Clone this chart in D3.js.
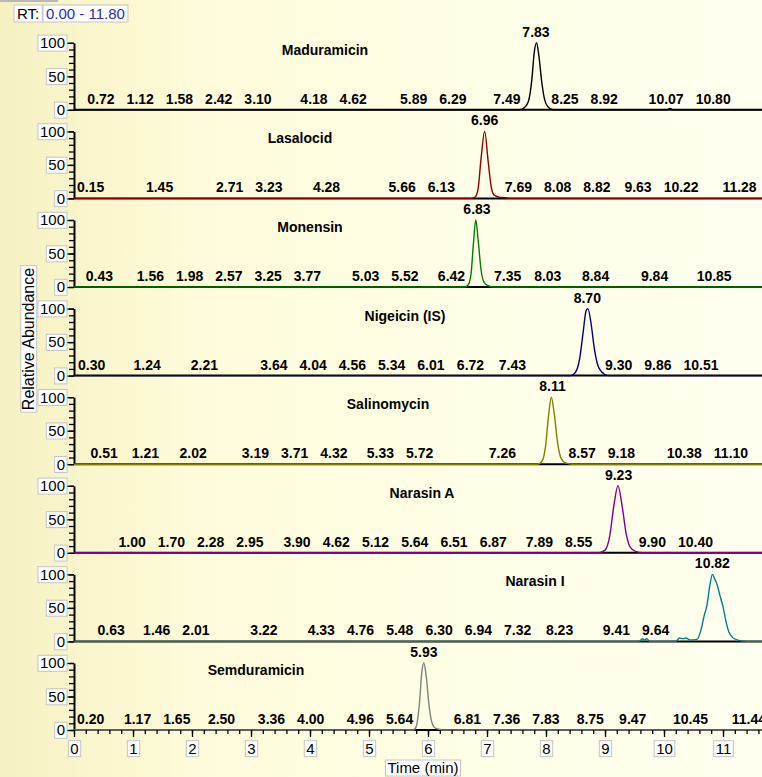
<!DOCTYPE html>
<html>
<head>
<meta charset="utf-8">
<script src="https://cdn.jsdelivr.net/npm/d3@7/dist/d3.min.js"></script>
<style>
body{margin:0;background:#fff;}
text{font-family:"Liberation Sans",Arial,sans-serif;}
</style>
</head>
<body>
<svg></svg>
<script>
// chart values
var compounds = ["Maduramicin","Lasalocid","Monensin","Nigeicin (IS)","Salinomycin","Narasin A","Narasin I","Semduramicin"];
var peakRT = ["7.83","6.96","6.83","8.70","8.11","9.23","10.82","5.93"];
var timeTicks = [0,1,2,3,4,5,6,7,8,9,10,11];
var abundanceTicks = [0,50,100];
var rtRange = [0,11.80];

// traces as [time, relative abundance]
var maduramicin = [[0,0],[7.55,0],[7.62,2],[7.7,12],[7.76,45],[7.8,85],[7.84,100],[7.88,80],[7.93,40],[7.98,14],[8.04,4],[8.12,0],[10.05,0],[10.1,2],[10.15,0],[11.8,0]];
var lasalocid = [[0,0],[6.74,0],[6.8,2],[6.85,15],[6.9,60],[6.96,100],[7.02,55],[7.07,18],[7.12,5],[7.2,2],[7.3,1],[7.38,0],[11.8,0]];
var monensin = [[0,0],[6.62,0],[6.68,3],[6.73,20],[6.77,65],[6.81,100],[6.85,70],[6.9,25],[6.95,7],[7.02,2],[7.12,0],[11.8,0]];
var nigeicin = [[0,0],[8.42,0],[8.5,5],[8.57,25],[8.63,65],[8.68,97],[8.71,100],[8.76,80],[8.82,40],[8.88,15],[8.95,5],[9.05,0],[11.8,0]];
var salinomycin = [[0,0],[7.86,0],[7.93,4],[7.99,25],[8.04,70],[8.09,100],[8.14,75],[8.2,30],[8.26,8],[8.33,2],[8.45,0],[11.8,0]];
var narasinA = [[0,0],[8.9,0],[9.0,4],[9.08,25],[9.15,70],[9.22,100],[9.29,70],[9.36,28],[9.43,8],[9.52,2],[9.63,0],[11.8,0]];
var narasinI = [[0,0],[9.58,0],[9.63,4],[9.67,2],[9.71,4],[9.76,0],[10.2,0],[10.26,5],[10.32,4],[10.37,5],[10.45,2],[10.56,3],[10.62,15],[10.68,38],[10.73,55],[10.78,85],[10.82,100],[10.86,93],[10.9,85],[10.95,68],[11.0,52],[11.05,30],[11.1,14],[11.16,6],[11.25,2],[11.4,0],[11.8,0]];
var semduramicin = [[0,0],[5.75,0],[5.8,5],[5.85,35],[5.9,90],[5.93,100],[5.97,80],[6.02,35],[6.07,10],[6.12,3],[6.2,1],[6.27,0],[11.8,0]];
var traces = [maduramicin,lasalocid,monensin,nigeicin,salinomycin,narasinA,narasinI,semduramicin];

// retention time labels along each baseline
var maduramicinRT = ["0.72","1.12","1.58","2.42","3.10","4.18","4.62","5.89","6.29","7.49","8.25","8.92","10.07","10.80"];
var lasalocidRT = ["0.15","1.45","2.71","3.23","4.28","5.66","6.13","7.69","8.08","8.82","9.63","10.22","11.28"];
var monensinRT = ["0.43","1.56","1.98","2.57","3.25","3.77","5.03","5.52","6.42","7.35","8.03","8.84","9.84","10.85"];
var nigeicinRT = ["0.30","1.24","2.21","3.64","4.04","4.56","5.34","6.01","6.72","7.43","9.30","9.86","10.51"];
var salinomycinRT = ["0.51","1.21","2.02","3.19","3.71","4.32","5.33","5.72","7.26","8.57","9.18","10.38","11.10"];
var narasinART = ["1.00","1.70","2.28","2.95","3.90","4.62","5.12","5.64","6.51","6.87","7.89","8.55","9.90","10.40"];
var narasinIRT = ["0.63","1.46","2.01","3.22","4.33","4.76","5.48","6.30","6.94","7.32","8.23","9.41","9.64"];
var semduramicinRT = ["0.20","1.17","1.65","2.50","3.36","4.00","4.96","5.64","6.81","7.36","7.83","8.75","9.47","10.45","11.44"];
var rtLabels = [maduramicinRT,lasalocidRT,monensinRT,nigeicinRT,salinomycinRT,narasinART,narasinIRT,semduramicinRT];

var drawChart = function()
{
  var screen = {width:762, height:777};
  var colors = ["#000000","#8b0000","#008000","#000080","#808000","#800080","#008080","#808080"];
  var nameX = [325,300,310,405,388,422,535,256];
  var firstBase = 109.8, step = 88.6, panelH = 67;

  var svg = d3.select('svg')
            .attr('width',screen.width)
            .attr('height',screen.height);

  var defs = svg.append('defs');
  var grad = defs.append('linearGradient').attr('id','bg')
             .attr('x1','0').attr('x2','1').attr('y1','0').attr('y2','0');
  grad.append('stop').attr('offset','0%').attr('stop-color','#f6f1c2');
  grad.append('stop').attr('offset','25%').attr('stop-color','#fdfbd9');
  grad.append('stop').attr('offset','60%').attr('stop-color','#fffee6');
  grad.append('stop').attr('offset','100%').attr('stop-color','#fffff0');
  defs.append('clipPath').attr('id','plotclip')
      .append('rect').attr('x',74).attr('y',0).attr('width',700).attr('height',screen.height);

  svg.append('rect').attr('width',screen.width).attr('height',screen.height).attr('fill','url(#bg)');
  svg.append('rect').attr('x',0).attr('y',0).attr('width',58).attr('height',2).attr('fill','#b8b8b8');

  var xScale = d3.scaleLinear()
                .domain(rtRange)
                .range([74, 74 + 11.8*59]);

  // boxed tick labels
  var boxLabels = function(g)
  {
    g.selectAll('.tick text').each(function(){
      var b = this.getBBox();
      d3.select(this.parentNode).insert('rect','text')
        .attr('x',b.x-2).attr('y',b.y+1)
        .attr('width',b.width+4).attr('height',b.height-1)
        .attr('fill','#ffffff')
        .attr('stroke','#c4c4c4')
        .attr('stroke-width',1);
    });
  };

  // y axis title (under the tick boxes)
  var title = svg.append('g').attr('transform','translate(28,339) rotate(-90)');
  var tt = title.append('text').attr('text-anchor','middle').attr('dy','0.36em')
             .attr('font-size',16).text('Relative Abundance');
  var tb = tt.node().getBBox();
  title.insert('rect','text').attr('x',tb.x-2).attr('y',tb.y+1).attr('width',tb.width+4).attr('height',tb.height-1)
       .attr('fill','#fff').attr('stroke','#c4c4c4');

  var line = d3.line().curve(d3.curveMonotoneX);

  compounds.forEach(function(name,i)
  {
    var base = firstBase + i*step;
    var yScale = d3.scaleLinear().domain([0,100]).range([base, base-panelH]);
    var panel = svg.append('g').classed('panel',true);

    // minor + major ticks
    panel.append('g')
      .attr('transform','translate(74,0)')
      .call(d3.axisLeft(yScale).tickValues(d3.range(0,101,10)).tickSize(5).tickSizeOuter(0).tickFormat(''))
      .call(function(g){ g.select('.domain').remove(); g.selectAll('line').attr('stroke','#000').attr('stroke-width',1.3); });
    var yA = panel.append('g')
      .attr('transform','translate(74,0)')
      .call(d3.axisLeft(yScale).tickValues(abundanceTicks).tickSize(7).tickSizeOuter(0).tickPadding(2))
      .attr('font-size',15).attr('font-family','"Liberation Sans",Arial,sans-serif');
    yA.selectAll('line').attr('stroke','#000').attr('stroke-width',1.3);
    yA.select('.domain').attr('stroke','#000').attr('stroke-width',2);
    yA.selectAll('.tick text').attr('fill','#000');
    boxLabels(yA);

    // baseline
    panel.append('line')
      .attr('x1',74).attr('x2',screen.width)
      .attr('y1',base).attr('y2',base)
      .attr('stroke','#000').attr('stroke-width',2);

    // trace
    line.x(function(d){ return xScale(d[0]); })
        .y(function(d){ return yScale(d[1]); });
    panel.append('path')
      .datum(traces[i])
      .attr('clip-path','url(#plotclip)')
      .attr('d',line)
      .attr('fill','none')
      .attr('stroke',colors[i])
      .attr('stroke-width',1.4);

    // compound name
    panel.append('text')
      .attr('x',nameX[i]).attr('y',base-55)
      .attr('text-anchor','middle')
      .attr('font-size',14).attr('font-weight','bold')
      .text(name);

    // main peak label
    panel.append('text')
      .attr('x',xScale(+peakRT[i])).attr('y',yScale(100)-6)
      .attr('text-anchor','middle')
      .attr('font-size',14).attr('font-weight','bold')
      .text(peakRT[i]);

    // the main peak takes room from the small labels
    var pk = traces[i].filter(function(d){ return d[1]>=2 && Math.abs(d[0]-(+peakRT[i]))<0.5; });
    var zone = [xScale(d3.min(pk,function(d){return d[0];}))-3, xScale(d3.max(pk,function(d){return d[0];}))+3];

    var labs = panel.selectAll('text.rt')
      .data(rtLabels[i])
      .enter()
      .append('text')
      .classed('rt',true)
      .attr('y',base-6)
      .attr('text-anchor','middle')
      .attr('font-size',14).attr('font-weight','bold')
      .text(function(d){ return d; });

    var items = [];
    labs.each(function(d){ items.push({x:xScale(+d), w:this.getComputedTextLength()}); });
    for(var k=0;k<200;k++)
    {
      for(var j=1;j<items.length;j++)
      {
        var a = items[j-1], b = items[j];
        var need = (a.w+b.w)/2 + 12 - (b.x-a.x);
        if(need>0){ a.x -= need/2; b.x += need/2; }
      }
      items.forEach(function(d){
        var l = d.x-d.w/2, r = d.x+d.w/2;
        if(r>zone[0] && l<zone[1])
        {
          if(d.x < (zone[0]+zone[1])/2) d.x = zone[0]-d.w/2;
          else d.x = zone[1]+d.w/2;
        }
        if(d.x-d.w/2 < 77) d.x = 77+d.w/2;
      });
    }
    labs.attr('x',function(d,j){ return items[j].x; });
  });

  // time axis
  var lastBase = firstBase + 7*step;
  svg.append('g')
    .attr('transform','translate(0,'+lastBase+')')
    .call(d3.axisBottom(xScale).tickValues(d3.range(0,59).map(function(v){return v*0.2;})).tickSize(4).tickSizeOuter(0).tickFormat(''))
    .call(function(g){ g.select('.domain').remove(); g.selectAll('line').attr('stroke','#000').attr('stroke-width',1.3); });
  var xA = svg.append('g')
    .attr('transform','translate(0,'+lastBase+')')
    .call(d3.axisBottom(xScale).tickValues(timeTicks).tickSize(7).tickSizeOuter(0).tickPadding(6))
    .attr('font-size',15).attr('font-family','"Liberation Sans",Arial,sans-serif');
  xA.select('.domain').remove();
  xA.selectAll('line').attr('stroke','#000').attr('stroke-width',1.3);
  xA.selectAll('.tick text').attr('fill','#000');
  boxLabels(xA);

  var xt = svg.append('g');
  var xtt = xt.append('text').attr('x',423).attr('y',773).attr('text-anchor','middle')
              .attr('font-size',15).text('Time (min)');
  var xb = xtt.node().getBBox();
  xt.insert('rect','text').attr('x',xb.x-2).attr('y',xb.y+1).attr('width',xb.width+4).attr('height',xb.height-1)
    .attr('fill','#fff').attr('stroke','#c4c4c4');

  // RT range box
  var rt = svg.append('g');
  var r1 = rt.append('text').attr('x',17).attr('y',19).attr('font-size',15).text('RT:');
  var r2 = rt.append('text').attr('x',46).attr('y',19).attr('font-size',15).attr('fill','#2a2ab8')
             .text(d3.format('.2f')(rtRange[0])+' - '+d3.format('.2f')(rtRange[1]));
  [r1,r2].forEach(function(t){
    var b = t.node().getBBox();
    rt.insert('rect','text').attr('x',b.x-3).attr('y',b.y).attr('width',b.width+6).attr('height',b.height)
      .attr('fill','#fff').attr('stroke','#c4c4c4');
  });
};

drawChart();
</script>
</body>
</html>
